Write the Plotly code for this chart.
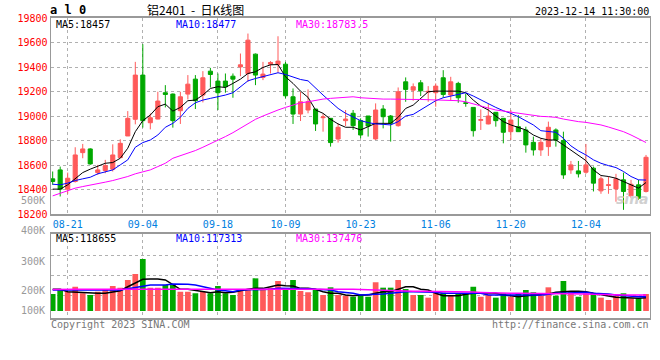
import plotly.graph_objects as go

# ---------------- data ----------------
dates = [
    "2023-08-17", "2023-08-18", "2023-08-21", "2023-08-22", "2023-08-23", "2023-08-24", "2023-08-25",
    "2023-08-28", "2023-08-29", "2023-08-30", "2023-08-31", "2023-09-01",
    "2023-09-04", "2023-09-05", "2023-09-06", "2023-09-07", "2023-09-08",
    "2023-09-11", "2023-09-12", "2023-09-13", "2023-09-14", "2023-09-15",
    "2023-09-18", "2023-09-19", "2023-09-20", "2023-09-21", "2023-09-22",
    "2023-09-25", "2023-09-26", "2023-09-27", "2023-09-28",
    "2023-10-09", "2023-10-10", "2023-10-11", "2023-10-12", "2023-10-13",
    "2023-10-16", "2023-10-17", "2023-10-18", "2023-10-19", "2023-10-20",
    "2023-10-23", "2023-10-24", "2023-10-25", "2023-10-26", "2023-10-27",
    "2023-10-30", "2023-10-31", "2023-11-01", "2023-11-02", "2023-11-03",
    "2023-11-06", "2023-11-07", "2023-11-08", "2023-11-09", "2023-11-10",
    "2023-11-13", "2023-11-14", "2023-11-15", "2023-11-16", "2023-11-17",
    "2023-11-20", "2023-11-21", "2023-11-22", "2023-11-23", "2023-11-24",
    "2023-11-27", "2023-11-28", "2023-11-29", "2023-11-30", "2023-12-01",
    "2023-12-04", "2023-12-05", "2023-12-06", "2023-12-07", "2023-12-08",
    "2023-12-11", "2023-12-12", "2023-12-13", "2023-12-14",
]

open_ = [18487, 18560, 18403, 18465, 18701, 18731, 18538, 18555, 18566, 18660, 18837, 18973,
         19334, 18945, 18975, 19190, 19179, 19043, 19179, 19301, 19171, 19366,
         19285, 19285, 19325, 19401, 19347, 19505, 19315, 19423, 19420,
         19423, 19157, 19016, 19049, 19057, 18986, 18981, 18812, 18962, 19022,
         18962, 19000, 18813, 19057, 19000, 18921, 19279, 19211, 19271, 19195,
         19190, 19312, 19171, 19266, 19108, 19070, 18965, 18935, 19030, 18981,
         18872, 18913, 18886, 18785, 18723, 18750, 18886, 18799, 18560, 18552,
         18541, 18574, 18389, 18433, 18405, 18479, 18348, 18438, 18384]
high = [18547, 18587, 18538, 18745, 18772, 18737, 18601, 18642, 18769, 18810, 19040, 19442,
        19586, 19021, 19198, 19252, 19184, 19198, 19334, 19334, 19366, 19393,
        19347, 19347, 19347, 19510, 19673, 19510, 19442, 19448, 19651,
        19442, 19225, 19198, 19217, 19057, 19016, 18981, 18940, 19049, 19049,
        18981, 19000, 19103, 19089, 19008, 19233, 19315, 19266, 19293, 19244,
        19266, 19374, 19320, 19279, 19184, 19070, 19054, 19097, 19030, 18981,
        19049, 19008, 18913, 18832, 18818, 18954, 18899, 18872, 18633, 18633,
        18772, 18587, 18506, 18506, 18528, 18538, 18479, 18479, 18682]
low = [18438, 18343, 18365, 18457, 18655, 18601, 18519, 18533, 18547, 18660, 18837, 18932,
       18905, 18891, 18973, 19070, 18905, 18935, 19135, 19057, 19111, 19233,
       19049, 19190, 19149, 19325, 19279, 19252, 19293, 19347, 19353,
       19144, 18935, 18959, 19022, 18878, 18872, 18750, 18783, 18918, 18886,
       18818, 18832, 18804, 18899, 18791, 18913, 19116, 19125, 19163, 19116,
       19076, 19149, 19125, 19108, 19076, 18832, 18886, 18932, 18913, 18777,
       18804, 18870, 18701, 18677, 18674, 18674, 18750, 18487, 18528, 18498,
       18528, 18384, 18365, 18365, 18300, 18234, 18329, 18316, 18376]
close = [18465, 18403, 18492, 18682, 18731, 18609, 18560, 18595, 18682, 18777, 18981, 19334,
         18962, 18986, 19122, 19176, 18962, 19157, 19260, 19125, 19312, 19339,
         19190, 19239, 19301, 19418, 19619, 19334, 19342, 19437, 19448,
         19165, 19016, 19116, 19116, 18935, 18992, 18783, 18908, 18975, 18921,
         18845, 18918, 19049, 18994, 18940, 19198, 19217, 19239, 19206, 19201,
         19244, 19176, 19279, 19149, 19103, 18880, 18970, 19000, 18962, 18867,
         18967, 18872, 18764, 18723, 18785, 18908, 18804, 18519, 18601, 18528,
         18601, 18452, 18487, 18438, 18487, 18384, 18443, 18329, 18663]

ma5 = [18403, 18403, 18438, 18492, 18538, 18566, 18593, 18614, 18620, 18655, 18737, 18872,
       18962, 19008, 19076, 19097, 19040, 19070, 19125, 19130, 19171, 19225,
       19239, 19233, 19266, 19301, 19347, 19361, 19396, 19418, 19420,
       19320, 19266, 19203, 19152, 19049, 19022, 18973, 18935, 18908, 18908,
       18886, 18913, 18940, 18940, 18940, 18989, 19062, 19089, 19144, 19198,
       19203, 19203, 19203, 19203, 19190, 19130, 19081, 19049, 19000, 18954,
       18927, 18908, 18886, 18845, 18818, 18804, 18804, 18764, 18723, 18682,
       18636, 18560, 18514, 18506, 18492, 18465, 18438, 18411, 18457]
ma10 = [18443, 18438, 18452, 18473, 18487, 18500, 18528, 18547, 18560, 18601, 18642, 18745,
        18783, 18804, 18845, 18908, 18940, 18989, 19062, 19108, 19130, 19144,
        19157, 19171, 19190, 19239, 19287, 19306, 19320, 19339, 19353,
        19339, 19320, 19298, 19287, 19233, 19171, 19116, 19062, 19022, 18989,
        18962, 18946, 18935, 18932, 18927, 18954, 19000, 19013, 19049, 19089,
        19125, 19149, 19163, 19179, 19190, 19163, 19130, 19097, 19070, 19043,
        19022, 18994, 18959, 18927, 18880, 18872, 18867, 18818, 18756, 18715,
        18682, 18642, 18614, 18595, 18579, 18547, 18506, 18479, 18477]
ma30 = [18348, 18370, 18392, 18411, 18424, 18438, 18449, 18460, 18473, 18487, 18506, 18528,
        18547, 18560, 18587, 18614, 18655, 18674, 18696, 18718, 18745, 18772,
        18799, 18832, 18864, 18899, 18935, 18973, 19000, 19027, 19049,
        19070, 19089, 19108, 19116, 19130, 19138, 19144, 19149, 19157, 19157,
        19149, 19144, 19138, 19138, 19138, 19135, 19135, 19135, 19135, 19133,
        19130, 19130, 19130, 19125, 19116, 19097, 19081, 19065, 19049, 19040,
        19035, 19024, 19016, 19002, 18997, 18994, 18989, 18975, 18962, 18954,
        18948, 18940, 18927, 18910, 18891, 18872, 18845, 18813, 18783.5]

volume = [148000, 183000, 168000, 211000, 154000, 139000, 168000, 183000, 218000, 203000, 270000, 322000,
          452000, 203000, 203000, 226000, 226000, 168000, 168000, 154000, 168000, 154000,
          218000, 154000, 139000, 189000, 189000, 284000, 189000, 203000, 261000,
          183000, 270000, 174000, 163000, 183000, 139000, 206000, 139000, 133000, 124000,
          139000, 124000, 250000, 203000, 203000, 270000, 191000, 139000, 139000, 116000,
          168000, 159000, 139000, 154000, 154000, 211000, 124000, 139000, 116000, 154000,
          124000, 154000, 183000, 163000, 133000, 206000, 133000, 261000, 163000, 124000,
          154000, 154000, 116000, 96000, 133000, 154000, 110000, 110000, 148000]
vol_ma5 = [189000, 189000, 168000, 163000, 159000, 154000, 154000, 154000, 163000, 177000, 211000, 246000,
           276000, 278000, 278000, 270000, 226000, 189000, 189000, 177000, 168000, 159000,
           168000, 159000, 163000, 177000, 189000, 197000, 197000, 211000, 226000,
           220000, 218000, 197000, 197000, 189000, 168000, 154000, 154000, 139000, 133000,
           139000, 139000, 154000, 168000, 168000, 189000, 211000, 211000, 189000, 183000,
           154000, 133000, 133000, 133000, 145000, 154000, 154000, 159000, 154000, 139000,
           133000, 124000, 133000, 139000, 139000, 148000, 163000, 168000, 171000, 171000,
           168000, 154000, 145000, 131000, 119000, 116000, 116000, 110000, 116000]
vol_ma10 = [183000, 183000, 183000, 183000, 183000, 183000, 183000, 183000, 183000, 183000, 194000, 203000,
            218000, 226000, 226000, 226000, 235000, 235000, 232000, 226000, 211000, 197000,
            183000, 177000, 168000, 183000, 183000, 183000, 183000, 189000, 197000,
            197000, 197000, 197000, 194000, 189000, 189000, 183000, 168000, 163000, 154000,
            139000, 139000, 145000, 148000, 154000, 163000, 168000, 168000, 168000, 165000,
            163000, 154000, 154000, 154000, 154000, 159000, 154000, 139000, 139000, 139000,
            139000, 133000, 139000, 139000, 139000, 145000, 154000, 154000, 159000, 163000,
            163000, 154000, 154000, 148000, 139000, 133000, 133000, 124000, 124000]
vol_ma30 = [186000, 189000, 189000, 189000, 189000, 189000, 189000, 189000, 191000, 191000, 191000, 191000,
            191000, 191000, 191000, 191000, 191000, 191000, 191000, 191000, 191000, 191000,
            191000, 191000, 191000, 189000, 189000, 189000, 189000, 189000, 189000,
            191000, 194000, 194000, 194000, 194000, 191000, 191000, 191000, 191000, 189000,
            186000, 183000, 180000, 177000, 174000, 174000, 174000, 171000, 171000, 171000,
            171000, 168000, 168000, 168000, 168000, 165000, 162000, 159000, 154000, 154000,
            154000, 154000, 154000, 151000, 151000, 151000, 151000, 148000, 148000, 148000,
            148000, 145000, 142000, 142000, 142000, 139000, 139000, 139000, 139000]

tick_dates = ["2023-08-21", "2023-09-04", "2023-09-18", "2023-10-09",
              "2023-10-23", "2023-11-06", "2023-11-20", "2023-12-04"]
tick_text = ["08-21", "09-04", "09-18", "10-09", "10-23", "11-06", "11-20", "12-04"]
price_ticks = [18200, 18400, 18600, 18800, 19000, 19200, 19400, 19600, 19800]
price_tick_text = ["18200", "18400", "18600", "18800", "19000", "19200", "19400", "19600", "19800"]
vol_labels = ["500K", "400K", "300K", "200K", "100K"]

# ---------------- style ----------------
W, H = 660, 360
RED = "#ff5a5a"
GREEN = "#00a800"
MONO = "DejaVu Sans Mono"
GRID = "#b0b0b0"
AX = "#999999"


def px(x):
    return x / W


def py(y):
    return 1 - y / H


fig = go.Figure()

fig.add_trace(go.Candlestick(
    x=dates, open=open_, high=high, low=low, close=close,
    increasing=dict(line=dict(color=RED, width=1), fillcolor=RED),
    decreasing=dict(line=dict(color=GREEN, width=1), fillcolor=GREEN),
    whiskerwidth=0, showlegend=False, hoverinfo="skip", xaxis="x", yaxis="y"))

for series, col in [(ma5, "#000000"), (ma10, "#0000ff"), (ma30, "#ff00ff")]:
    fig.add_trace(go.Scatter(x=dates, y=series, mode="lines",
                             line=dict(color=col, width=1), showlegend=False,
                             hoverinfo="skip", xaxis="x", yaxis="y"))

bar_colors = [RED if c >= o else GREEN for o, c in zip(open_, close)]
fig.add_trace(go.Bar(x=dates, y=volume, marker=dict(color=bar_colors, line=dict(width=0)),
                     showlegend=False, hoverinfo="skip", xaxis="x2", yaxis="y2"))

for series, col in [(vol_ma5, "#000000"), (vol_ma10, "#0000ff"), (vol_ma30, "#ff00ff")]:
    fig.add_trace(go.Scatter(x=dates, y=series, mode="lines",
                             line=dict(color=col, width=1.5), showlegend=False,
                             hoverinfo="skip", xaxis="x2", yaxis="y2"))

xdom = [px(50.5), px(650)]
xrange_ = [-0.29, 79.53]

common_x = dict(type="category", range=xrange_, domain=xdom, automargin=False,
                showgrid=True, gridcolor=GRID, griddash="dot", gridwidth=1,
                tickmode="array", tickvals=tick_dates, ticktext=tick_text,
                showline=True, linecolor=AX, linewidth=2, mirror=True,
                ticks="", zeroline=False, fixedrange=True)

fig.update_layout(
    width=W, height=H,
    margin=dict(l=0, r=0, t=0, b=0, autoexpand=False),
    paper_bgcolor="white", plot_bgcolor="white",
    bargap=0.24, boxgap=0.22,
    xaxis=dict(**common_x, anchor="y", rangeslider=dict(visible=False),
               tickfont=dict(family=MONO, size=10, color="#0080e0")),
    xaxis2=dict(**common_x, anchor="y2", matches="x", showticklabels=False),
    yaxis=dict(domain=[py(214), py(18)], range=[18200, 19800], automargin=False,
               tickmode="array", tickvals=price_ticks, ticktext=price_tick_text,
               tickfont=dict(family=MONO, size=10, color="#ff0000"),
               showgrid=True, gridcolor=GRID, griddash="dot", gridwidth=1,
               showline=True, linecolor=AX, linewidth=1, mirror=True,
               ticks="", zeroline=False, fixedrange=True),
    yaxis2=dict(domain=[py(318), py(234)], range=[-60900, 669900], automargin=False,
                showticklabels=False, showgrid=False,
                minor=dict(tickvals=[133000, 307000, 481000], showgrid=True,
                           gridcolor=GRID, griddash="dot", gridwidth=1),
                showline=True, linecolor=AX, linewidth=1, mirror=True,
                ticks="", zeroline=False, fixedrange=True),
)

ann = []


def add_text(text, x, y, anchor="left", color="#000000", size=10, family=MONO, **kw):
    ann.append(dict(text=text, x=px(x), y=py(y), xref="paper", yref="paper",
                    xanchor=anchor, yanchor="middle", showarrow=False,
                    font=dict(family=family, size=size, color=color), **kw))


NB = "\u00a0"
add_text("<b>a l 0</b>", 48, 10, size=12)
add_text("铝2401" + NB + NB + "-" + NB + NB + "日K线图", 195, 9.5, anchor="center", size=12,
         family="Noto Sans CJK SC", borderpad=0)
add_text("2023-12-14 11:30:00", 651, 11, anchor="right")
add_text("MA5:18457", 54, 24.5)
add_text("MA10:18477", 174, 24.5, color="#0000ff")
add_text("MA30:18783.5", 294, 24.5, color="#ff00ff")
add_text("MA5:118655", 54, 238.5)
add_text("MA10:117313", 174, 238.5, color="#0000ff")
add_text("MA30:137476", 294, 238.5, color="#ff00ff")
for lab, yy in zip(vol_labels, [200.7, 230.7, 261, 290.7, 310.7]):
    add_text(lab, 47, yy, anchor="right", color="#999999")
add_text("Copyright 2023 SINA.COM", 49, 324, color="#777777")
add_text("http://finance.sina.com.cn", 651, 324, anchor="right", color="#777777")
add_text("<b><i>sina</i></b>", 632, 199, anchor="center", color="#d0d0d0", size=14,
         family="DejaVu Sans")

fig.update_layout(annotations=ann)

fig.write_html("out.html", config={"displayModeBar": False},
               post_script="document.body.style.margin='0';document.body.style.padding='0';")
